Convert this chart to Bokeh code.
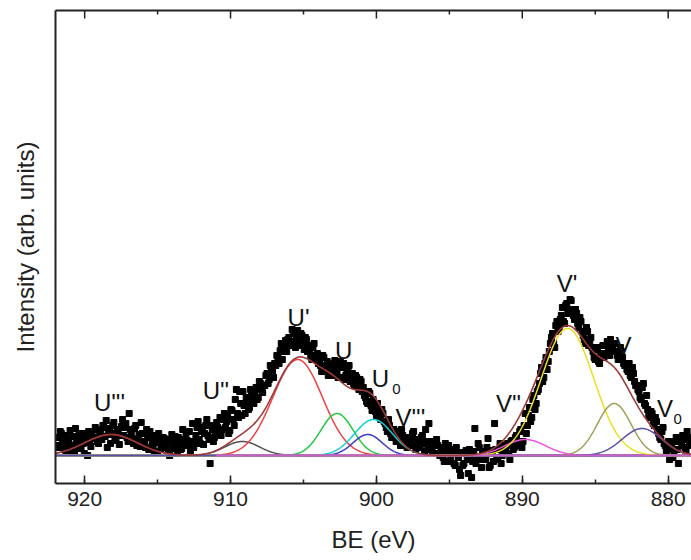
import numpy as np
from bokeh.plotting import figure
from bokeh.models import Range1d, LinearAxis, SingleIntervalTicker, FixedTicker, ColumnDataSource
from bokeh.core.properties import value
from bokeh.embed import file_html
from bokeh.resources import INLINE

# ---------------- data ----------------
# scan A
be_start_a = 921.9
be_step = 0.15
counts_a = [
    18, 8, 22, 12, 5,
    16, 25, 10, 3, 15,
    20, 7, 12, 18, 0,
    14, 21, 17, 26, 12,
    24, 30, 19, 8, 27,
    22, 33, 15, 25, 20,
    36, 28, 18, 42, 24,
    12, 30, 16, 9, 22,
    14, 26, 6, 18, 11,
    20, 3, 15, 8, 17,
    12, 5, 14, 9, 19,
    2, 12, 7, 16, 22,
    10, 4, 32, 13, 28,
    16, 24, 11, 30, 20,
    -8, 26, 18, 33, 22,
    20, 36, 28, 40, 25,
    45, 30, 66, 38, 52,
    64, 42, 55, 48, 60,
    52, 68, 58, 72, 63,
    70, 82, 76, 88, 78,
    90, 98, 105, 96, 110,
    104, 118, 112, 122, 108,
    125, 114, 120, 106, 116,
    110, 100, 108, 96, 102,
    94, 84, 98, 88, 80,
    90, 82, 95, 84, 88,
    78, 92, 80, 86, 74,
    82, 70, 78, 66, 74,
    68, 58, 52, 62, 45,
    50, 40, 46, 36, 42,
    32, 24, 30, 18, 26,
    14, 22, 10, 20, 16,
    8, 18, 12, 24, 6,
    15, 10, 20, 4, 14,
    32, 6, 12, 2, 10,
    0, 8, -6, 4, 10,
    -4, 6, -10, 2, -14,
    3, -8, 5, -18, 0,
    -6, 27, -2, 8, -12,
    4, -4, 17, -10, 2,
    32, -2, 6, -8, 10,
    4, 12, -4, 15, 8,
    20, 10, 26, 14, 42,
    30, 48, 38, 60, 52,
    66, 82, 74, 92, 86,
    104, 118, 112, 130, 124,
    136, 148, 132, 152, 144,
    155, 140, 146, 132, 138,
    124, 116, 128, 110, 118,
    104, 96, 108, 92, 100,
    98, 110, 104, 116, 106,
    112, 100, 96, 104, 92,
    90, 84, 80, 88, 74,
    70, 64, 56, 72, 50,
    46, 38, 42, 30, 34,
    22, 16, 28, 10, 6,
    -4, 12, 2, 18, -8,
    14, 20, 8, 24, 10,
]
# scan B (interleaved points, half a step later)
be_start_b = 921.825
counts_b = [
    10, 24, 15, 6, 20,
    12, 4, 19, 27, 9,
    15, 22, 2, 13, 24,
    9, 18, 28, 14, 20,
    16, 28, 35, 21, 12,
    30, 18, 26, 11, 29,
    20, 32, 14, 26, 17,
    27, 10, 21, 33, 13,
    8, 19, 24, 12, 4,
    13, 22, 6, 18, 10,
    16, 0, 21, 7, 13,
    18, 6, 26, 10, 15,
    24, 14, 8, 20, 34,
    12, 28, 22, 36, 16,
    30, 14, 24, 28, 38,
    26, 42, 34, 22, 46,
    36, 56, 42, 64, 40,
    50, 58, 46, 66, 54,
    62, 56, 74, 66, 70,
    80, 72, 90, 84, 92,
    100, 92, 112, 104, 115,
    116, 110, 126, 114, 120,
    110, 122, 112, 118, 104,
    106, 96, 112, 100, 92,
    90, 100, 86, 94, 84,
    80, 92, 86, 78, 94,
    88, 76, 84, 90, 80,
    72, 80, 70, 76, 64,
    60, 54, 64, 50, 56,
    44, 52, 38, 46, 34,
    28, 36, 22, 26, 20,
    24, 16, 26, 12, 18,
    14, 10, 22, 16, 12,
    8, 18, 12, 26, 9,
    14, 4, 10, 16, 2,
    6, -2, 12, 2, -6,
    4, -8, 8, -2, -20,
    -10, 2, -4, 6, -22,
    4, -8, 12, -4, 2,
    -2, 8, -12, 5, -6,
    6, -4, 12, 0, 4,
    10, 2, 14, 6, 18,
    14, 24, 8, 30, 22,
    40, 34, 56, 46, 64,
    72, 88, 78, 98, 94,
    112, 122, 108, 134, 128,
    140, 134, 150, 142, 156,
    146, 136, 142, 128, 134,
    120, 112, 124, 114, 108,
    98, 106, 94, 102, 110,
    102, 114, 100, 108, 112,
    104, 96, 108, 98, 90,
    86, 92, 78, 82, 70,
    66, 58, 68, 52, 60,
    40, 44, 32, 38, 26,
    18, 24, 12, 4, 14,
    8, -2, 14, 6, 16,
    10, 16, 4, 18, 12,
]

# fitted components (Gaussian): centre (eV), height, sigma (eV)
peak_names = ["U'''", "U''", "U'", "U", "U0", "V'''", "V''", "V'", "V", "V0"]
peak_center = [918.2, 909.2, 905.4, 902.7, 900.2, 900.6, 889.8, 886.9, 883.7, 881.8]
peak_height = [21, 14, 96, 42, 36, 21, 16, 127, 52, 27]
peak_sigma = [1.8, 1.2, 1.7, 1.1, 1.3, 1.0, 1.4, 1.8, 1.15, 1.35]
peak_color = ["#8b1a1a", "#505050", "#f04040", "#20c840", "#10d0d8", "#3a3ac8",
              "#f050e0", "#e8e020", "#a0a058", "#5a50a8"]

# peak annotation labels
label_text = ["U'''", "U''", "U'", "U", "U", "V'''", "V''", "V'", "V", "V"]
label_be = [918.3, 911.0, 905.34, 902.24, 899.73, 897.67, 890.94, 886.94, 883.06, 880.21]
label_h = [53, 65, 138.3, 105, 76.7, 38.3, 51.7, 171.7, 110, 46.7]
sub_text = ["0", "0"]
sub_be = [898.63, 879.35]
sub_h = [67, 36.7]

x_start, x_end = 922.0, 878.4
y_start, y_end = -28, 445
major_ticks = [920, 910, 900, 890, 880]
minor_ticks = [915, 905, 895, 885]
baseline_left_be = [922.0, 911.0]
baseline_right_be = [911.0, 878.4]
baseline_level = [0, 0]

# ---------------- figure ----------------
FONT = "Liberation Sans"
INK = "#222222"
p = figure(width=691, height=560, x_range=Range1d(x_start, x_end), y_range=Range1d(y_start, y_end),
           output_backend="svg", toolbar_location=None,
           min_border_left=55, min_border_right=0, min_border_top=10, min_border_bottom=77)
p.outline_line_color = None
p.grid.visible = False
p.background_fill_color = "white"
p.border_fill_color = "white"

# bottom axis
xa = p.xaxis[0]
xa.ticker = SingleIntervalTicker(interval=10, num_minor_ticks=2)
xa.axis_label = "BE (eV)"
xa.axis_label_text_font = FONT
xa.axis_label_text_font_size = "24px"
xa.axis_label_text_font_style = "normal"
xa.axis_label_text_color = INK
xa.axis_label_standoff = 17
xa.major_label_text_font = FONT
xa.major_label_text_font_size = "21px"
xa.major_label_text_color = INK
xa.major_label_standoff = 8
xa.axis_line_width = 2
xa.axis_line_color = INK
xa.major_tick_in = 8
xa.major_tick_out = 0
xa.minor_tick_in = 4
xa.minor_tick_out = 0
xa.major_tick_line_width = 1.5
xa.minor_tick_line_width = 1.5
xa.major_tick_line_color = INK
xa.minor_tick_line_color = INK

# left axis (no ticks)
ya = p.yaxis[0]
ya.ticker = FixedTicker(ticks=[])
ya.axis_label = "Intensity (arb. units)"
ya.axis_label_text_font = FONT
ya.axis_label_text_font_size = "24px"
ya.axis_label_text_font_style = "normal"
ya.axis_label_text_color = INK
ya.axis_label_standoff = 17
ya.axis_line_width = 2
ya.axis_line_color = INK
ya.major_tick_in = 0
ya.major_tick_out = 0
ya.minor_tick_in = 0
ya.minor_tick_out = 0

# top axis: line only, ticks drawn inward as short rays
ta = LinearAxis(ticker=FixedTicker(ticks=[]))
ta.axis_line_width = 2
ta.axis_line_color = INK
ta.major_tick_in = 0
ta.major_tick_out = 0
ta.minor_tick_in = 0
ta.minor_tick_out = 0
p.add_layout(ta, "above")
p.ray(x=major_ticks, y=y_end, length=8, length_units="screen", angle=-np.pi / 2,
      line_color=INK, line_width=1.5)
p.ray(x=minor_ticks, y=y_end, length=4, length_units="screen", angle=-np.pi / 2,
      line_color=INK, line_width=1.5)

# data points
be_a = np.round(be_start_a - be_step * np.arange(len(counts_a)), 3)
be_b = np.round(be_start_b - be_step * np.arange(len(counts_b)), 3)
src = ColumnDataSource(dict(be=np.concatenate([be_a, be_b]), counts=counts_a + counts_b))
p.scatter("be", "counts", source=src, marker="square", size=6, color="black")

# components
grid_be = np.linspace(x_start, x_end, 900)
p.line(baseline_left_be, baseline_level, line_color="#4a4aa8", line_width=2)
total = np.zeros_like(grid_be)
for c, h, s, col in zip(peak_center, peak_height, peak_sigma, peak_color):
    comp = h * np.exp(-((grid_be - c) ** 2) / (2 * s ** 2))
    total += comp
    p.line(grid_be, comp, line_color=col, line_width=1.5)
p.line(baseline_right_be, baseline_level, line_color="#c860c8", line_width=2)
p.line(grid_be, total, line_color="#9c3a3a", line_width=1.6)

# labels
p.text(x=label_be, y=label_h, text=label_text, text_align="center", text_baseline="alphabetic",
       text_font=value(FONT), text_font_size="24px", text_color="#111111")
p.text(x=sub_be, y=sub_h, text=sub_text, text_align="center", text_baseline="alphabetic",
       text_font=value(FONT), text_font_size="15px", text_color="#111111")

open("out.html", "w").write(file_html(p, INLINE))
